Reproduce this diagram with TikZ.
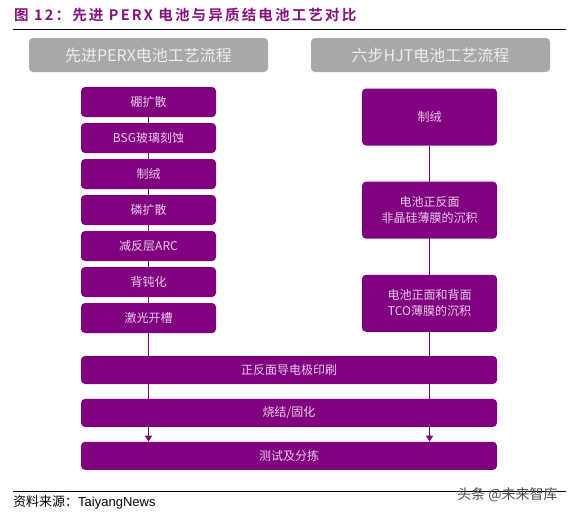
\documentclass[tikz,border=0pt]{standalone}
\usepackage{fontspec}
\usetikzlibrary{positioning, arrows.meta, backgrounds}
\newfontfamily\cjk[BoldFont={Noto Sans CJK SC Bold}]{Noto Sans CJK SC}
\newfontfamily\cjktitle[LetterSpace=15]{Noto Sans CJK SC Bold}
\newfontfamily\arial{Liberation Sans}
\definecolor{stepviolet}{HTML}{800080}
\definecolor{steptext}{HTML}{E8CFE8}
\definecolor{headgray}{HTML}{A8A8A8}
\definecolor{headtext}{HTML}{EEEEEE}
\definecolor{titleviolet}{HTML}{86127F}

\begin{document}
\begin{tikzpicture}[x=1pt, y=-1pt,
    stepbox/.style={rectangle, rounded corners=4pt, fill=stepviolet, text=steptext,
      font=\cjk\fontsize{12}{16}\selectfont, align=center, inner sep=2pt},
    leftbox/.style={stepbox, minimum width=135pt, minimum height=30pt},
    rightbox/.style={stepbox, minimum width=135pt, minimum height=57pt},
    widebox/.style={stepbox, minimum width=416pt, minimum height=28pt},
    headbox/.style={rectangle, rounded corners=4pt, fill=headgray, text=headtext,
      font=\cjk\fontsize{16}{18}\selectfont, minimum width=239pt, minimum height=34pt},
    flow/.style={stepviolet, line width=1.8pt}]
      \useasboundingbox (0,0) rectangle (575,517);

      % title and rules
      \node[anchor=west, text=titleviolet, font=\cjktitle\fontsize{14.5}{16}\selectfont, inner sep=0pt]
        (title) at (14,15) {图 12：先进 PERX 电池与异质结电池工艺对比};
      \draw[line width=0.8pt] (13,29) -- (566,29);
      \draw[line width=0.8pt] (13,491) -- (566,491);

      % headers
      \node[headbox] (hperx) at (148.5,55) {先进PERX电池工艺流程};
      \node[headbox] (hhjt) at (430.5,55) {六步HJT电池工艺流程};

      % PERX steps
      \node[leftbox] (p1) at (148.5,102) {硼扩散};
      \node[leftbox, below=5.6pt of p1] (p2) {BSG玻璃刻蚀};
      \node[leftbox, below=5.6pt of p2] (p3) {制绒};
      \node[leftbox, below=5.6pt of p3] (p4) {磷扩散};
      \node[leftbox, below=5.6pt of p4] (p5) {减反层ARC};
      \node[leftbox, below=5.6pt of p5] (p6) {背钝化};
      \node[leftbox, below=5.6pt of p6] (p7) {激光开槽};

      % HJT steps
      \node[rightbox] (h1) at (429.5,117) {制绒};
      \node[rightbox, below=35.75pt of h1] (h2) {电池正反面\\非晶硅薄膜的沉积};
      \node[rightbox, below=35.75pt of h2] (h3) {电池正面和背面\\TCO薄膜的沉积};

      % shared steps
      \node[widebox] (print) at (289,370) {正反面导电极印刷};
      \node[widebox, below=14.5pt of print] (fire) {烧结/固化};
      \node[widebox, below=14.5pt of fire] (test) {测试及分拣};

      \begin{scope}[on background layer]
        \draw[flow] (p1.south) -- (p7.north);
        \draw[flow, -{Triangle[width=7pt, length=6pt]}] (p7.south) -- (p7.south |- test.north);
        \draw[flow] (h1.south) -- (h3.north);
        \draw[flow, -{Triangle[width=7pt, length=6pt]}] (h3.south) -- (h3.south |- test.north);
      \end{scope}

      % source
      \node[anchor=west, inner sep=0pt, font=\fontsize{13}{15}\selectfont] (src) at (13,502)
        {{\cjk 资料来源：}{\arial TaiyangNews}};
      \node[anchor=west, inner sep=1pt, text=black!70, font=\cjk\fontsize{14}{16}\selectfont]
        (mark) at (456,495) {头条 @未来智库};
\end{tikzpicture}
\end{document}
